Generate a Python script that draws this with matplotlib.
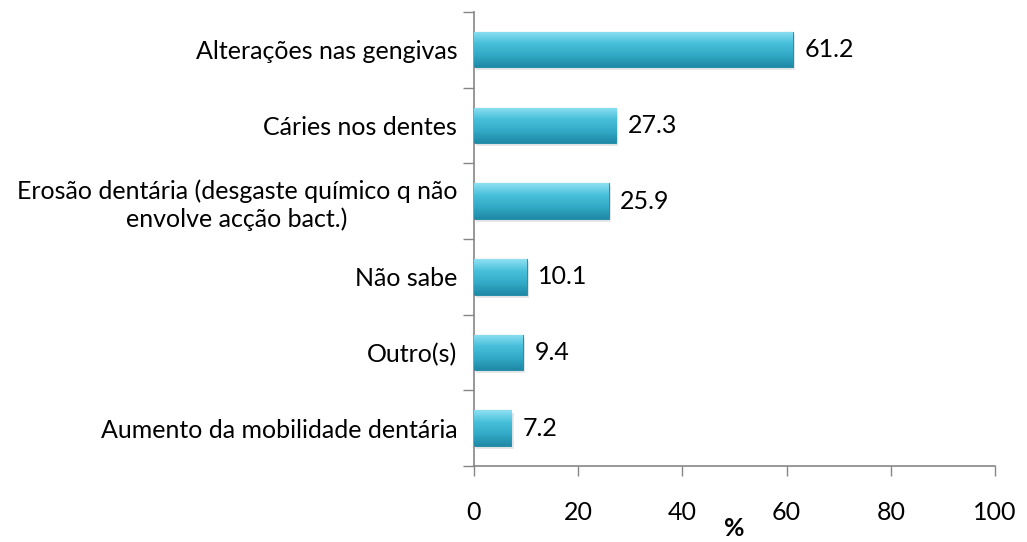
import numpy as np
import matplotlib.pyplot as plt
from matplotlib.colors import LinearSegmentedColormap

plt.rcParams['font.family'] = ['Lato', 'DejaVu Sans']

categories = ['Aumento da mobilidade dentária',
              'Outro(s)',
              'Não sabe',
              'Erosão dentária (desgaste químico q não\nenvolve acção bact.)',
              'Cáries nos dentes',
              'Alterações nas gengivas']
values = [7.2, 9.4, 10.1, 25.9, 27.3, 61.2]
xticks = [0, 20, 40, 60, 80, 100]

fig = plt.figure(figsize=(10.27, 5.42), dpi=100)
ax = fig.add_axes([0.4615, 0.1402, 0.5073, 0.838])

grey = '#868686'
fs = 18
cmap = LinearSegmentedColormap.from_list('bar', ['#8ee0f2', '#48bfda', '#32aac7', '#1f89a7'])
grad = np.linspace(0, 1, 64).reshape(-1, 1)
h = 0.47
ypos = np.arange(len(values))

bars = ax.barh(ypos, values, height=h, color='#36aeca', edgecolor='#2a8fa8',
               linewidth=0.8, zorder=2)
for b in bars:
    x0, y0 = b.get_x(), b.get_y()
    w, hh = b.get_width(), b.get_height()
    # soft shadow
    ax.add_patch(plt.Rectangle((x0 + 0.4, y0 - 0.04), w, hh, color='#d9d9d9',
                               alpha=0.6, zorder=1, lw=0))
    im = ax.imshow(grad, extent=(x0, x0 + w, y0, y0 + hh), aspect='auto',
                   cmap=cmap, origin='upper', zorder=3)
    im.set_clip_path(b)

for y, v in zip(ypos, values):
    ax.text(v + 2.2, y, f'{v:.1f}', va='center', ha='left', fontsize=fs, color='black')

ax.set_xlim(0, 100)
ax.set_ylim(-0.5, len(values) - 0.5)
ax.set_xticks(xticks)
ax.set_xticklabels([str(t) for t in xticks], fontsize=fs)
ax.set_yticks(ypos)
ax.set_yticklabels(categories, fontsize=fs, multialignment='center')
ax.set_yticks(np.arange(-0.5, len(values)), minor=True)
ax.tick_params(axis='y', which='major', length=0, pad=12)
ax.tick_params(axis='y', which='minor', length=8, color=grey, width=1)
ax.tick_params(axis='x', which='major', length=7, color=grey, width=1, pad=18)

for s in ['top', 'right']:
    ax.spines[s].set_visible(False)
for s in ['left', 'bottom']:
    ax.spines[s].set_color(grey)
    ax.spines[s].set_linewidth(1.2)

ax.set_xlabel('%', fontsize=fs, fontweight='bold', labelpad=-5)

fig.savefig('out.png', dpi=100)
